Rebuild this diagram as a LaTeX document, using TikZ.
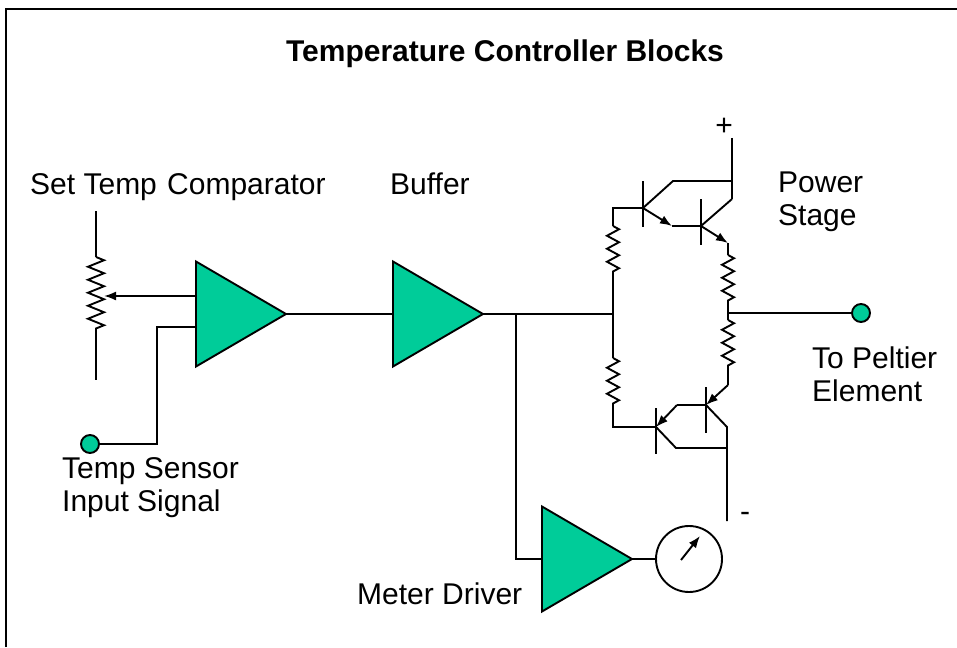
\documentclass[tikz,border=0pt]{standalone}
\usepackage{fontspec}
\setmainfont{Liberation Sans}
\usetikzlibrary{arrows,arrows.meta,positioning,shapes.geometric,decorations.pathmorphing}
\definecolor{ampgreen}{RGB}{0,204,153}
\tikzset{
    %Define standard arrow tip
    >={Latex[length=12pt,width=9pt]},
    %Define style for the amplifier triangles
    amp/.style={
           isosceles triangle,
           isosceles triangle stretches=true,
           shape border rotate=0,
           fill=ampgreen,
           draw=black, line width=1.9pt,
           minimum width=105pt,
           minimum height=90pt,
           inner sep=0pt, outer sep=0pt},
    % Define wire style
    wire/.style={line width=1.9pt},
    % Define arrow style
    pil/.style={wire, -{Latex[length=12pt,width=9pt]}},
    % Define resistor style
    res/.style={
           wire,
           decorate,
           decoration={zigzag, segment length=13pt, amplitude=6pt}},
    % Define terminal style
    term/.style={
           circle,
           fill=ampgreen,
           draw=black, line width=1.9pt,
           minimum size=18pt,
           inner sep=0pt},
    lbl/.style={font=\fontsize{30}{33}\selectfont, inner sep=0pt, align=left}
}
\begin{document}
\begin{tikzpicture}[x=1pt, y=-1pt]
 \useasboundingbox (0,0) rectangle (957,647);
 % frame
 \draw[line width=2.4pt] (6,647) -- (6,9) -- (957,9);
 \node[lbl, font=\fontsize{30}{33}\selectfont\bfseries] (title) at (505,54) {Temperature Controller Blocks};
 %labels
 \node[lbl, anchor=base west] (settemp) at (30,194) {Set Temp};
 \node[lbl, anchor=base west] (complbl) at (167,194) {Comparator};
 \node[lbl, anchor=base west] (buflbl) at (390,194) {Buffer};
 \node[lbl, anchor=north west] (powlbl) at (778,172) {Power\\Stage};
 \node[lbl, anchor=north west] (peltlbl) at (812,347) {To Peltier\\Element};
 \node[lbl, anchor=north west] (senslbl) at (62,457) {Temp Sensor\\Input Signal};
 \node[lbl, anchor=base west] (drvlbl) at (357,604) {Meter Driver};
 \node[lbl] (plus) at (724,127) {+};
 \node[lbl] (minus) at (745,517) {-};
 %amplifiers
 \node[amp, anchor=lower side] (comp) at (196,314) {};
 \node[amp, anchor=lower side] (buf) at (393,314) {};
 \node[amp, anchor=lower side] (drv) at (542,559) {};
 \node[circle, draw, line width=1.9pt, minimum size=66pt, inner sep=0pt] (gauge) at (689,559) {};
 \node[term] (sens) at (90,444) {};
 \node[term] (peltier) at (861,313) {};
 % set temp potentiometer
 \coordinate (wiper) at (104,296);
 \draw[wire] (96,211) -- (96,257);
 \draw[res, decoration={amplitude=8pt}] (96,257) -- (96,333);
 \draw[wire] (96,333) -- (96,380);
 \draw[pil] (196,296) -- (wiper);
 \draw[wire] (196,327) -- (157,327) |- (sens);
 % signal chain
 \coordinate (split) at (516,314);
 \coordinate (jl) at (613,314);
 \draw[wire] (comp.apex) -- (buf.lower side);
 \draw[wire] (buf.apex) -- (jl);
 \draw[wire] (split) |- (drv.lower side);
 \draw[wire] (drv.apex) -- (gauge);
 \draw[pil] (681,560) -- (700,536);
 % power stage, upper pair
 \coordinate (q1) at (643,208);
 \coordinate (q2) at (701,226);
 \draw[wire] (643,181) -- (643,227);
 \draw[wire] (701,199) -- (701,245);
 \draw[wire] (732,138) -- (732,199);
 \draw[wire] (q1) -- (673,181) -- (732,181);
 \draw[pil] (q1) -- (672,226);
 \draw[wire] (672,226) -- (q2);
 \draw[wire] (q2) -- (732,199);
 \draw[pil] (q2) -- (728,243);
 \draw[wire] (q1) -| (613,226);
 \draw[res] (613,226) -- (613,275);
 \draw[wire] (613,275) -- (613,358);
 \draw[res] (613,358) -- (613,408);
 \draw[wire] (728,243) -- (728,255);
 \draw[res] (728,255) -- (728,303);
 \draw[wire] (728,303) -- (728,320);
 \draw[res] (728,320) -- (728,368);
 \draw[wire] (728,368) -- (728,385);
 \draw[wire] (728,313) -- (peltier);
 % power stage, lower pair
 \coordinate (q4) at (656,427);
 \coordinate (q3) at (706,405);
 \draw[wire] (656,408) -- (656,454);
 \draw[wire] (706,387) -- (706,433);
 \draw[wire] (613,408) |- (q4);
 \draw[pil] (677,405) -- (q4);
 \draw[wire] (677,405) -- (q3);
 \draw[pil] (728,385) -- (q3);
 \draw[wire] (q3) -- (727,427) -- (727,521);
 \draw[wire] (q4) -- (676,448) -- (727,448);
\end{tikzpicture}
\end{document}
